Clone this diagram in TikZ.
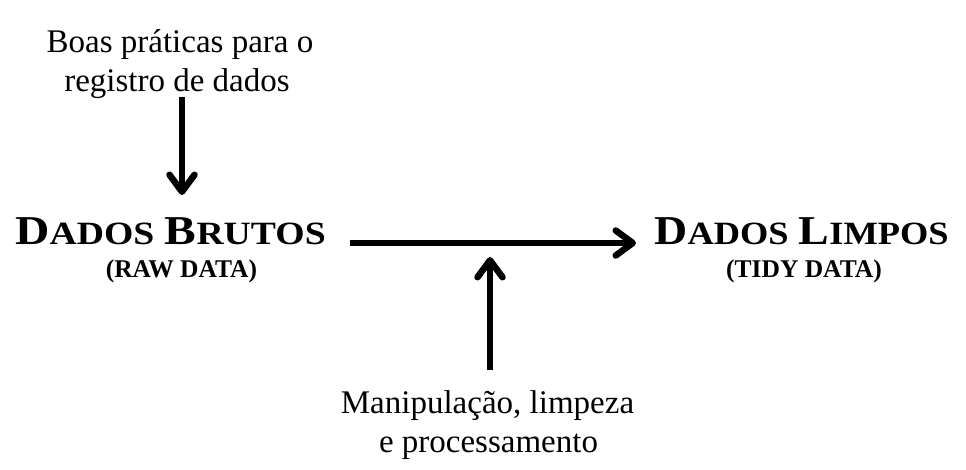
\documentclass[tikz,border=0pt]{standalone}
\usepackage{fontspec}
\setmainfont{Liberation Serif}
\usetikzlibrary{arrows.meta}
\newcommand\rtxt[1]{{\fontsize{33}{33}\selectfont #1}}
\newcommand\bg[1]{{\fontsize{41}{41}\selectfont\bfseries #1}}
\newcommand\sm[1]{{\fontsize{32.5}{32.5}\selectfont\bfseries #1}}
\newcommand\subt[1]{{\fontsize{25.5}{25.5}\selectfont\bfseries #1}}
\tikzset{
  lbl/.style={inner sep=0pt, anchor=base, text=black},
  conn/.style={line width=6.5pt, black, -{Straight Barb[length=17pt,width=25pt,line cap=round,line join=round]}},
}
\begin{document}
\begin{tikzpicture}[x=1pt,y=-1pt]
\useasboundingbox[fill=white] (0,0) rectangle (966,469);
% top label
\node[lbl] (boasA) at (180,52) {\rtxt{Boas práticas para o}};
\node[lbl] (boasB) at (177,91) {\rtxt{registro de dados}};
% main nodes
\node[lbl] (brutos) at (170.5,244) {\scalebox{1.16}[1]{\bg{D}\sm{ADOS}\hspace{9pt}\bg{B}\sm{RUTOS}}};
\node[lbl] (raw) at (181.5,277) {\subt{(RAW DATA)}};
\node[lbl] (limpos) at (801.5,244) {\scalebox{1.12}[1]{\bg{D}\sm{ADOS}\hspace{9pt}\bg{L}\sm{IMPOS}}};
\node[lbl] (tidy) at (804,277) {\subt{(TIDY DATA)}};
% bottom label
\node[lbl] (manA) at (487.5,413) {\rtxt{Manipulação, limpeza}};
\node[lbl] (manB) at (488.5,452) {\rtxt{e processamento}};
% connector end points
\coordinate (d1) at (182,97);
\coordinate (d2) at (182,195);
\coordinate (h1) at (350,243);
\coordinate (h2) at (636,243);
\coordinate (u1) at (490,370);
\coordinate (u2) at (490,257);
\draw[conn] (d1) -- (d2);
\draw[conn] (h1) -- (h2);
\draw[conn] (u1) -- (u2);
\end{tikzpicture}
\end{document}
